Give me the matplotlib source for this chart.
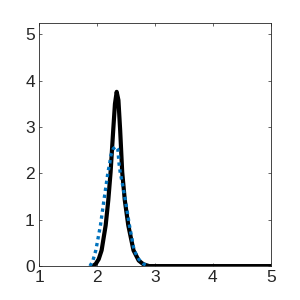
import numpy as np
import matplotlib
matplotlib.use('Agg')
import matplotlib.pyplot as plt

# solid black curve
black_x = [1.93, 1.98, 2.03, 2.08, 2.15, 2.195, 2.235, 2.28, 2.31, 2.34,
           2.37, 2.40, 2.435, 2.48, 2.54, 2.63, 2.72, 2.80, 2.9, 5.0]
black_y = [0.0, 0.05, 0.15, 0.34, 0.88, 1.42, 2.03, 2.93, 3.5, 3.76,
           3.58, 2.93, 2.03, 1.42, 0.88, 0.34, 0.12, 0.04, 0.0, 0.0]

# dotted blue curve
blue_x = [1.88, 1.93, 1.98, 2.06, 2.12, 2.19, 2.22, 2.24, 2.28, 2.32,
          2.36, 2.38, 2.40, 2.45, 2.49, 2.56, 2.64, 2.72, 2.80, 2.88]
blue_y = [0.0, 0.12, 0.34, 0.88, 1.42, 2.03, 2.22, 2.39, 2.53, 2.58,
          2.52, 2.22, 2.03, 1.7, 1.42, 0.88, 0.34, 0.15, 0.05, 0.0]

xticks = [1, 2, 3, 4, 5]
yticks = [0, 1, 2, 3, 4, 5]

plt.rcParams['font.family'] = ['Liberation Sans', 'DejaVu Sans']

fig = plt.figure(figsize=(3, 3), dpi=100)
ax = fig.add_axes([0.13, 0.113, 0.773, 0.811])

ax.plot(black_x, black_y, color='black', linewidth=3.0, solid_joinstyle='round')
ax.plot(blue_x, blue_y, color='#0072BD', linewidth=2.4, linestyle=(0, (1, 1.1)))

ax.set_xlim(1, 5)
ax.set_ylim(0, 5.25)
ax.set_xticks(xticks)
ax.set_yticks(yticks)
ax.tick_params(direction='in', length=2.5, width=0.5, colors='#262626',
               labelsize=12.5, top=True, right=True, pad=3)
for s in ax.spines.values():
    s.set_linewidth(0.6)
    s.set_color('#262626')

fig.savefig('out.png', dpi=100)
